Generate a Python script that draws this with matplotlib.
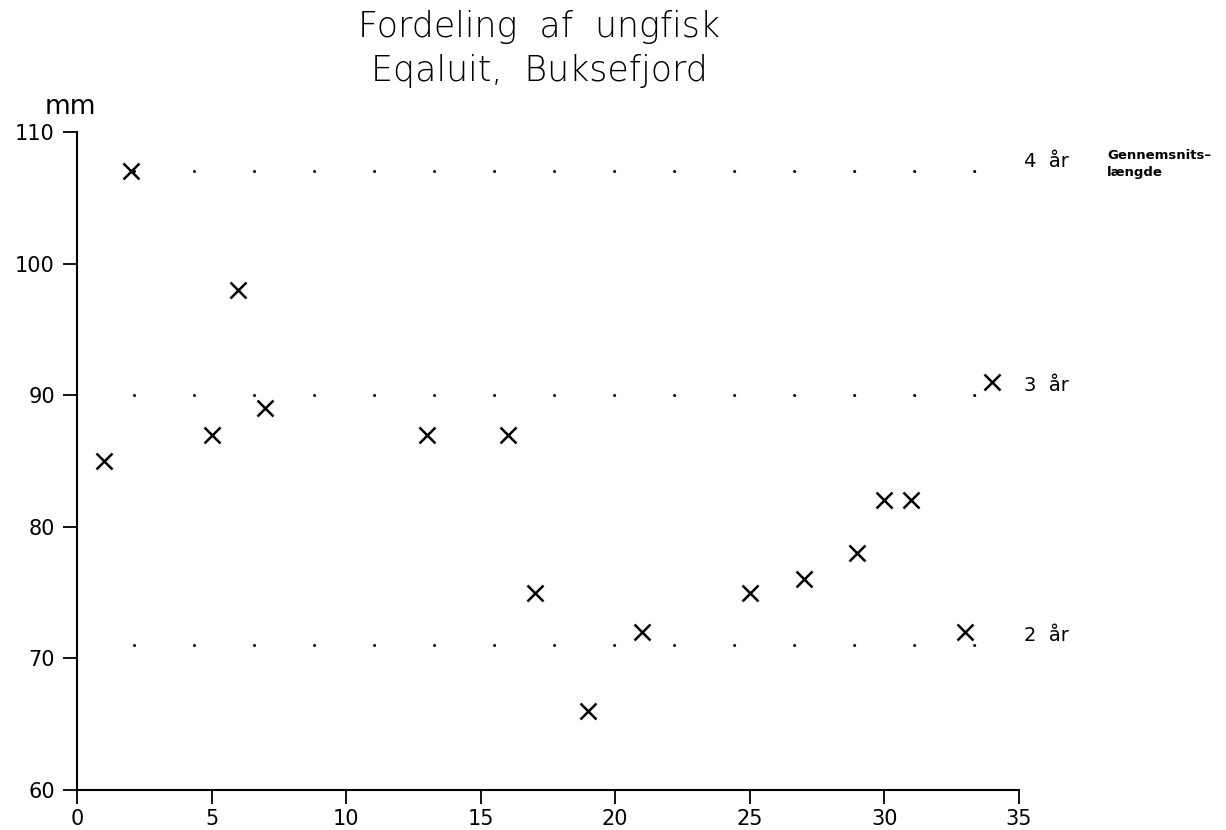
import matplotlib.pyplot as plt

plt.rcParams['lines.scale_dashes'] = False

# ungfisk: station nr. og længde i mm
station = [1, 2, 5, 6, 7, 13, 16, 17, 19, 21, 25, 27, 29, 30, 31, 33, 34]
laengde = [85, 107, 87, 98, 89, 87, 87, 75, 66, 72, 75, 76, 78, 82, 82, 72, 91]

# gennemsnitslængde pr. aldersgruppe
aldre = ['4  år', '3  år', '2  år']
middel = [107, 90, 71]

fig = plt.figure(figsize=(12.26, 8.30), dpi=100)
ax = fig.add_axes([0.0628, 0.0482, 0.7683, 0.7928])

for navn, m in zip(aldre, middel):
    ax.plot([2.1, 33.5], [m, m], color='black', lw=2.2,
            linestyle=(0, (0.01, 43.2)), dash_capstyle='round')
    ax.annotate(navn, xy=(35.2, m), xytext=(0, 7), textcoords='offset points',
                fontsize=14, va='center', ha='left', annotation_clip=False)

ax.plot(station, laengde, linestyle='none', marker='x', color='black',
        markersize=12, markeredgewidth=1.8)

ax.set_xlim(0, 35)
ax.set_ylim(60, 110)
ax.set_xticks(range(0, 36, 5))
ax.set_yticks(range(60, 111, 10))
ax.spines['top'].set_visible(False)
ax.spines['right'].set_visible(False)
ax.spines['left'].set_linewidth(1.5)
ax.spines['bottom'].set_linewidth(1.5)
ax.tick_params(axis='both', direction='out', length=10, width=1.3, labelsize=15)
ax.tick_params(axis='y', pad=6)
ax.tick_params(axis='x', pad=4)

fig.text(0.057, 0.871, 'mm', fontsize=19, ha='center', va='center')
fig.text(0.44, 0.968, 'Fordeling  af  ungfisk', fontsize=25, fontweight='light',
         ha='center', va='center')
fig.text(0.44, 0.914, 'Eqaluit,  Buksefjord', fontsize=25, fontweight='light',
         ha='center', va='center')
fig.text(0.903, 0.821, 'Gennemsnits–\nlængde', fontsize=9.5, fontweight='bold',
         ha='left', va='top', linespacing=1.4)

fig.savefig('out.png', dpi=100)
